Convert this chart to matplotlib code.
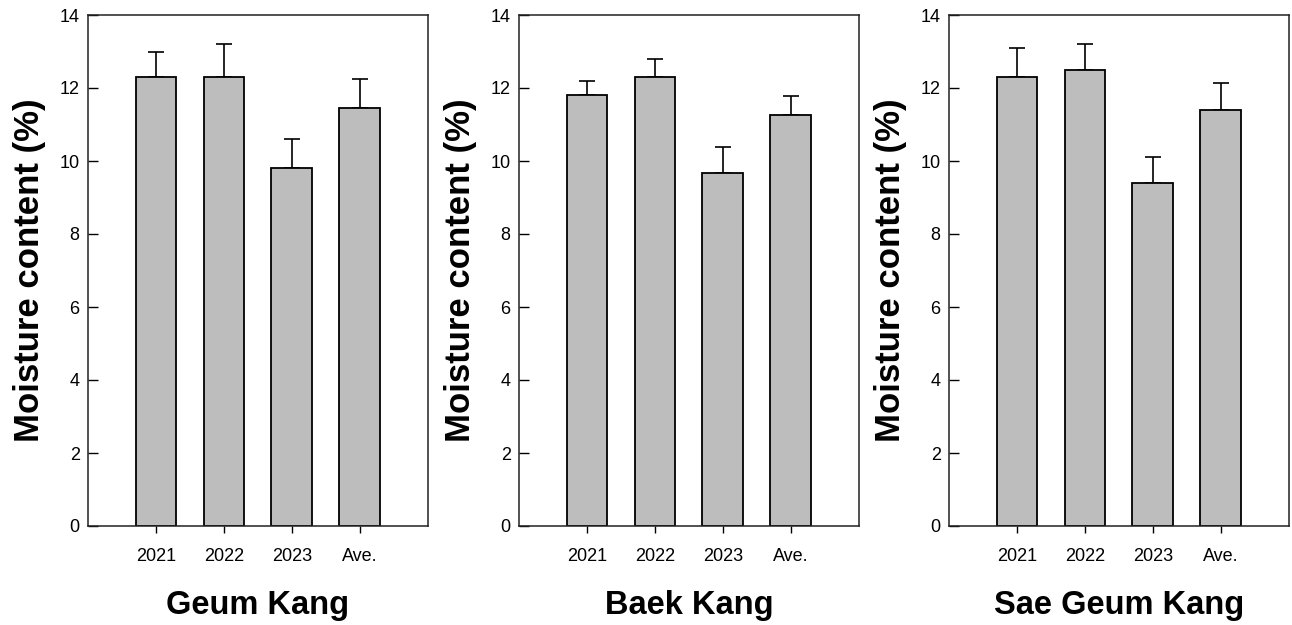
import numpy as np
import matplotlib.pyplot as plt

plt.rcParams['font.family'] = ['Liberation Sans', 'DejaVu Sans']

# Valores de umidade (%) por ano e média, com desvio (só barra superior)
anos = ["2021", "2022", "2023", "Ave."]
locais = ["Geum Kang", "Baek Kang", "Sae Geum Kang"]

geum_media = [12.3, 12.3, 9.8, 11.45]
geum_desvio = [0.7, 0.9, 0.8, 0.8]

baek_media = [11.8, 12.3, 9.67, 11.26]
baek_desvio = [0.4, 0.5, 0.7, 0.53]

sae_media = [12.3, 12.5, 9.4, 11.4]
sae_desvio = [0.8, 0.7, 0.7, 0.75]

medias = [geum_media, baek_media, sae_media]
desvios = [geum_desvio, baek_desvio, sae_desvio]

fig = plt.figure(figsize=(12.92, 6.25), dpi=100)

# Posições dos três painéis (fração da figura)
esquerdas = [0.0681, 0.4017, 0.7345]
largura = 0.263
base = 0.1584
altura = 0.8176

pos = np.arange(1, len(anos) + 1)

for esq, nome, m, d in zip(esquerdas, locais, medias, desvios):
    ax = fig.add_axes([esq, base, largura, altura])
    ax.bar(pos, m, width=0.6, color="#bdbdbd", edgecolor="black",
           linewidth=1.3, zorder=2)
    ax.errorbar(pos, m, yerr=[np.zeros(len(d)), d], fmt="none",
                ecolor="black", elinewidth=1.2, capsize=6, capthick=1.2,
                zorder=1)

    ax.set_xlim(0, 5)
    ax.set_ylim(0, 14)
    ax.set_yticks(np.arange(0, 15, 2))
    ax.set_xticks(pos)
    ax.set_xticklabels(anos)

    ax.tick_params(axis="y", direction="in", length=7, width=1,
                   labelsize=13, pad=6)
    ax.tick_params(axis="x", direction="out", length=5, width=1,
                   labelsize=13, pad=11)

    for lado in ax.spines.values():
        lado.set_linewidth(1.1)
        lado.set_color("#222222")

    ax.set_ylabel("Moisture content (%)", fontsize=25, fontweight="bold",
                  labelpad=10)
    ax.set_xlabel(nome, fontsize=23.5, fontweight="bold", labelpad=18)

plt.savefig("out.png", dpi=100)
